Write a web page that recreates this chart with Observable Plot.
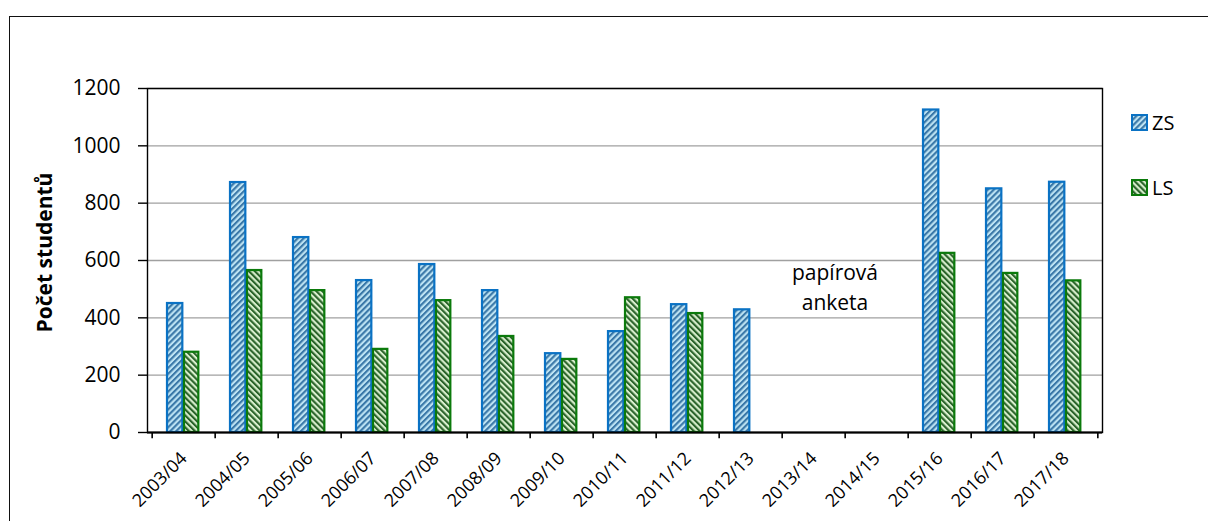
<!DOCTYPE html>
<html><head><meta charset="utf-8">
<script src="https://cdn.jsdelivr.net/npm/d3@7"></script>
<script src="https://cdn.jsdelivr.net/npm/@observablehq/plot@0.6"></script>
<style>
body{margin:0;background:#fff;font-family:"Open Sans",sans-serif;}
#wrap{position:relative;width:1208px;height:521px;overflow:hidden;background:#fff;}
#frame{position:absolute;left:9px;top:16px;width:1300px;height:600px;border:1.3px solid #111;box-sizing:border-box;}
#wrap > svg{position:absolute;left:0;top:0;}
.leg{position:absolute;display:flex;align-items:center;font-size:20px;color:#000;font-family:"Open Sans",sans-serif;}
.leg svg{margin-right:4px;}
</style></head><body>
<div id="wrap"><div id="frame"></div></div>
<script>
const years = ["2003/04","2004/05","2005/06","2006/07","2007/08","2008/09","2009/10","2010/11","2011/12","2012/13","2013/14","2014/15","2015/16","2016/17","2017/18"];
const zs = [450, 872, 680, 530, 586, 495, 275, 352, 446, 428, null, null, 1125, 850, 873];
const ls = [280, 565, 495, 290, 460, 335, 255, 470, 415, null, null, null, 625, 555, 529];
const yTicks = [0, 200, 400, 600, 800, 1000, 1200];
const seriesNames = ["ZS", "LS"];
const noteText = "papírová\nanketa";
const noteYear = "2013/14";
const noteValue = 513;
const yTitle = "Počet studentů";

const W = 1208, H = 521, mL = 147, mR = 106, mT = 88, mB = 89;
const step = (W - mL - mR) / years.length;
const rows = years.map((y, i) => ({year: y, zs: zs[i], ls: ls[i]}));

const chart = Plot.plot({
  width: W, height: H,
  marginLeft: mL, marginRight: mR, marginTop: mT, marginBottom: mB,
  style: {fontFamily: "Open Sans", background: "transparent", overflow: "visible", color: "#000"},
  x: {type: "band", domain: years, padding: 0, axis: null, label: null},
  y: {domain: [0, 1200], axis: null, label: null},
  marks: [
    Plot.gridY(yTicks, {stroke: "#a0a0a0", strokeOpacity: 1, strokeWidth: 1.4}),
    Plot.barY(rows.filter(d => d.zs != null), {x: "year", y: "zs", fill: "url(#pzs)", stroke: "#0a72c4", strokeWidth: 2.2, insetLeft: 15, insetRight: step - 31}),
    Plot.barY(rows.filter(d => d.ls != null), {x: "year", y: "ls", fill: "url(#pls)", stroke: "#0b7a0b", strokeWidth: 2.2, insetLeft: 32, insetRight: step - 47}),
    Plot.frame({stroke: "#000", strokeWidth: 1.4}),
    Plot.ruleY([0], {stroke: "#000", strokeWidth: 2.2}),
    Plot.ruleX(years, {x: d => d, y1: 0, y2: -22, dx: -step / 2, stroke: "#000", strokeWidth: 1.6}),
    Plot.ruleX([years[years.length - 1]], {x: d => d, y1: 0, y2: -22, dx: step / 2, stroke: "#000", strokeWidth: 1.6}),
    Plot.axisY(yTicks, {tickSize: 9, tickPadding: 18, fontSize: 21, strokeWidth: 1.4, tickFormat: d => String(d), label: null}),
    Plot.axisX(years, {tickSize: 0, tickRotate: -45, tickPadding: 23, fontSize: 18, label: null}),
    Plot.text([noteText], {x: () => noteYear, y: () => noteValue, dx: 21, fontSize: 21, lineHeight: 1.45, lineAnchor: "middle", fill: "#000"}),
    Plot.text([yTitle], {frameAnchor: "left", rotate: -90, dx: -102, dy: -8, fontSize: 21, fontWeight: "bold", textAnchor: "middle", lineAnchor: "middle", fill: "#000"})
  ]
});

chart.insertAdjacentHTML("afterbegin", `<defs>
<pattern id="pzs" patternUnits="userSpaceOnUse" width="4.2" height="4.2" patternTransform="rotate(45)">
<rect width="4.2" height="4.2" fill="#bde3f3"/><rect width="2.1" height="4.2" fill="#3a78a8"/></pattern>
<pattern id="pls" patternUnits="userSpaceOnUse" width="4.2" height="4.2" patternTransform="rotate(-45)">
<rect width="4.2" height="4.2" fill="#d8efcd"/><rect width="2.1" height="4.2" fill="#2a632a"/></pattern>
</defs>`);

const wrap = document.getElementById("wrap");
wrap.appendChild(chart);

const legendCfg = [
  {name: seriesNames[0], fill: "url(#pzs)", stroke: "#0a72c4", top: 109},
  {name: seriesNames[1], fill: "url(#pls)", stroke: "#0b7a0b", top: 174}
];
legendCfg.forEach(l => {
  const d = document.createElement("div");
  d.className = "leg";
  d.style.left = "1131px";
  d.style.top = l.top + "px";
  d.innerHTML = `<svg width="17" height="17"><rect x="1" y="1" width="15" height="15" fill="${l.fill}" stroke="${l.stroke}" stroke-width="2"/></svg><span>${l.name}</span>`;
  wrap.appendChild(d);
});
</script>
</body></html>
